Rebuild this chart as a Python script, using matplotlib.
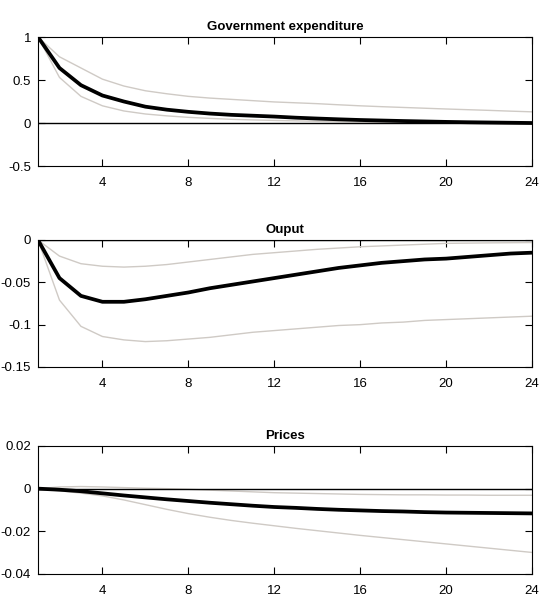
import matplotlib.pyplot as plt
import matplotlib.font_manager as fm
import numpy as np

# horizon (quarters)
horizon = np.arange(1, 25)

# Government expenditure: median response and error bands
gov_mid = [1.0, 0.64, 0.44, 0.32, 0.25, 0.19, 0.155, 0.13, 0.11, 0.095, 0.085, 0.075,
           0.062, 0.052, 0.043, 0.035, 0.029, 0.023, 0.018, 0.013, 0.009, 0.006, 0.003, 0.0]
gov_hi = [1.0, 0.77, 0.64, 0.51, 0.43, 0.375, 0.34, 0.31, 0.29, 0.275, 0.26, 0.245,
          0.235, 0.225, 0.212, 0.2, 0.19, 0.181, 0.172, 0.163, 0.155, 0.147, 0.138, 0.13]
gov_lo = [1.0, 0.53, 0.31, 0.2, 0.14, 0.105, 0.083, 0.066, 0.054, 0.043, 0.036, 0.03,
          0.025, 0.02, 0.015, 0.01, 0.006, 0.003, 0.0, -0.003, -0.005, -0.007, -0.009, -0.01]

# Output
out_mid = [0.0, -0.045, -0.066, -0.073, -0.073, -0.070, -0.066, -0.062, -0.057, -0.053,
           -0.049, -0.045, -0.041, -0.037, -0.033, -0.030, -0.027, -0.025, -0.023, -0.022,
           -0.020, -0.018, -0.016, -0.015]
out_hi = [0.0, -0.019, -0.028, -0.031, -0.032, -0.031, -0.029, -0.026, -0.023, -0.020,
          -0.017, -0.015, -0.013, -0.011, -0.0095, -0.008, -0.007, -0.006, -0.005, -0.004,
          -0.0037, -0.0034, -0.0032, -0.003]
out_lo = [0.0, -0.071, -0.102, -0.114, -0.118, -0.120, -0.119, -0.117, -0.115, -0.112,
          -0.109, -0.107, -0.105, -0.103, -0.101, -0.100, -0.098, -0.097, -0.095, -0.094,
          -0.093, -0.092, -0.091, -0.090]

# Prices
pr_mid = [0.0, -0.0005, -0.0012, -0.0022, -0.0032, -0.0041, -0.005, -0.0058, -0.0066,
          -0.0073, -0.008, -0.0086, -0.009, -0.0095, -0.0099, -0.0102, -0.0105, -0.0107,
          -0.011, -0.0112, -0.0113, -0.0114, -0.0115, -0.0116]
pr_hi = [0.0, 0.0008, 0.001, 0.0008, 0.0005, 0.0002, 0.0, -0.0003, -0.0007, -0.0011,
         -0.0015, -0.0019, -0.0021, -0.0023, -0.0025, -0.0027, -0.0028, -0.0029, -0.0029,
         -0.003, -0.003, -0.0031, -0.0031, -0.0031]
pr_lo = [0.0, -0.001, -0.0021, -0.0034, -0.0053, -0.0075, -0.0097, -0.0117, -0.0134,
         -0.0149, -0.0162, -0.0174, -0.0186, -0.0197, -0.0208, -0.0219, -0.0229, -0.0239,
         -0.0249, -0.0259, -0.0269, -0.0279, -0.0289, -0.0299]

titles = ["Government expenditure", "Ouput", "Prices"]
yticks = [[-0.5, 0, 0.5, 1], [-0.15, -0.1, -0.05, 0], [-0.04, -0.02, 0, 0.02]]
yticklabels = [["-0.5", "0", "0.5", "1"], ["-0.15", "-0.1", "-0.05", "0"],
               ["-0.04", "-0.02", "0", "0.02"]]
ylims = [(-0.5, 1), (-0.15, 0), (-0.04, 0.02)]
xticks = [4, 8, 12, 16, 20, 24]

families = [f.name for f in fm.fontManager.ttflist]
if "Liberation Sans Narrow" in families:
    plt.rcParams['font.family'] = ['Liberation Sans Narrow', 'DejaVu Sans']
else:
    plt.rcParams['font.family'] = ['Liberation Sans', 'DejaVu Sans']

band_color = "#cfcac5"

fig = plt.figure(figsize=(5.39, 6.03), dpi=100)
positions = [[0.0705, 0.7247, 0.9165, 0.2139],
             [0.0705, 0.3914, 0.9165, 0.2106],
             [0.0705, 0.0481, 0.9165, 0.2123]]
series = [(gov_mid, gov_hi, gov_lo), (out_mid, out_hi, out_lo), (pr_mid, pr_hi, pr_lo)]

for i, (mid, hi, lo) in enumerate(series):
    ax = fig.add_axes(positions[i])
    ax.plot(horizon, hi, color=band_color, linewidth=1.0)
    ax.plot(horizon, lo, color=band_color, linewidth=1.0)
    ax.axhline(0, color="black", linewidth=1.0)
    ax.plot(horizon, mid, color="black", linewidth=2.7)
    ax.set_xlim(1, 24)
    ax.set_ylim(*ylims[i])
    ax.set_xticks(xticks)
    ax.set_yticks(yticks[i])
    ax.set_yticklabels(yticklabels[i])
    ax.tick_params(direction="in", top=True, right=True, length=5, width=0.8,
                   labelsize=9.5)
    ax.tick_params(axis="x", pad=8)
    ax.tick_params(axis="y", pad=5)
    for s in ax.spines.values():
        s.set_linewidth(0.8)
    ax.set_title(titles[i], fontsize=9.5, fontweight="bold", pad=5)

fig.savefig("out.png", dpi=100)
